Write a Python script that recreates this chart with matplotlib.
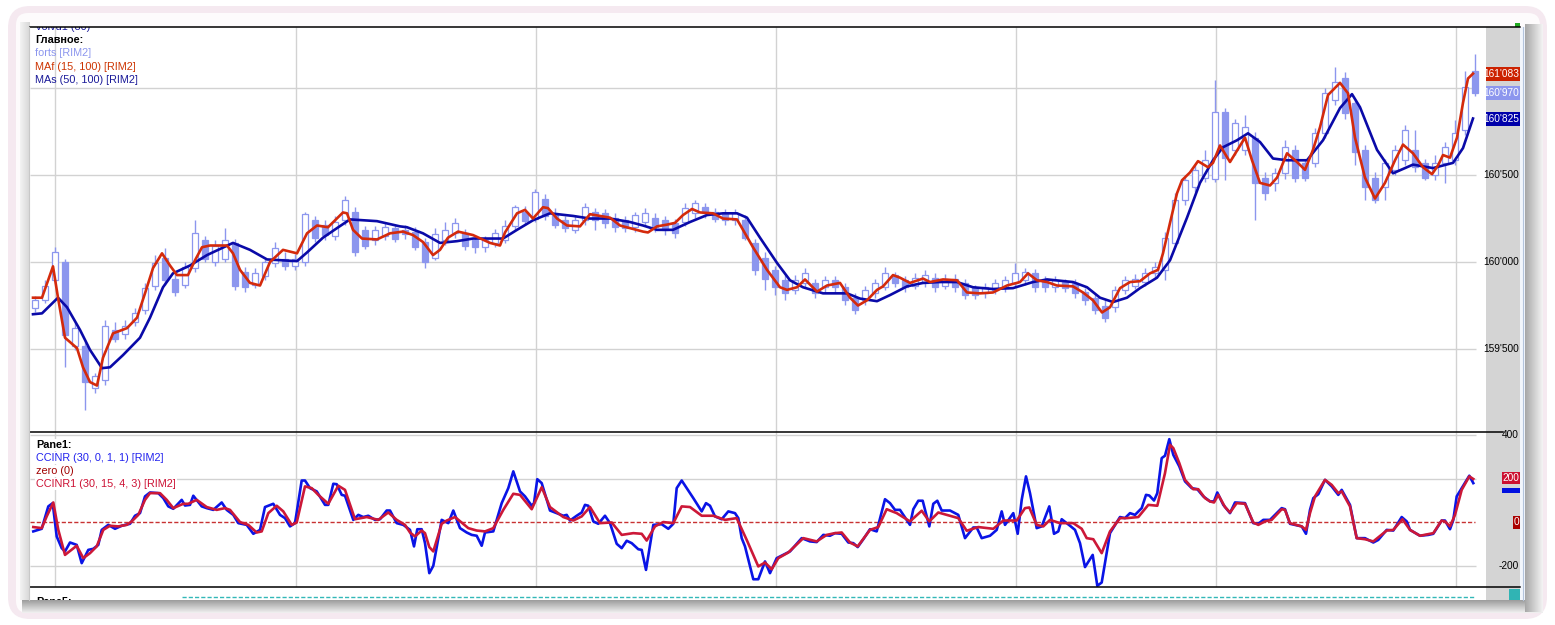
import numpy as np
import matplotlib
matplotlib.use("Agg")
import matplotlib.pyplot as plt
import matplotlib.transforms as mtransforms
from matplotlib.patches import Rectangle, FancyBboxPatch

plt.rcParams['font.family'] = ['Liberation Sans', 'DejaVu Sans']

W, H = 1555, 625

#%% candles (one slot per bar)
opens = [159735, 159780, 159895, 160000, 159515, 159520, 159275, 159320, 159610, 159585,
         159655, 159725, 159865, 160025, 159905, 159870, 159965, 160125, 160000, 160020,
         160110, 159940, 159870, 159920, 159995, 160020, 159975, 160000, 160240, 160210,
         160150, 160240, 160285, 160185, 160125, 160150, 160195, 160185, 160170, 160115,
         160025, 160125, 160165, 160165, 160125, 160085, 160110, 160125, 160205, 160285,
         160250, 160365, 160280, 160240, 160185, 160240, 160285, 160280, 160255, 160240,
         160200, 160230, 160255, 160240, 160225, 160230, 160280, 160315, 160285, 160280,
         160240, 160240, 160110, 160025, 159955, 159895, 159840, 159880, 159880, 159855,
         159895, 159855, 159795, 159780, 159820, 159855, 159925, 159895, 159865, 159880,
         159910, 159865, 159905, 159880, 159850, 159820, 159840, 159855, 159880, 159895,
         159935, 159895, 159855, 159885, 159880, 159825, 159795, 159750, 159740, 159840,
         159865, 159885, 159935, 159955, 160110, 160355, 160430, 160485, 160480, 160860,
         160645, 160645, 160715, 160485, 160455, 160510, 160645, 160570, 160570, 160740,
         160930, 161055, 160915, 160645, 160485, 160430, 160530, 160585, 160645, 160570,
         160500, 160570, 160585, 160760, 161100]
closes = [159780, 159865, 160055, 159580, 159620, 159310, 159345, 159635, 159560, 159630,
          159705, 159850, 159995, 159895, 159825, 159970, 160165, 160020, 160090, 160125,
          159865, 159855, 159935, 160000, 160080, 159975, 160020, 160275, 160140, 160155,
          160230, 160355, 160055, 160095, 160185, 160200, 160135, 160160, 160085, 160000,
          160160, 160185, 160225, 160090, 160085, 160125, 160165, 160205, 160315, 160235,
          160400, 160265, 160215, 160195, 160240, 160315, 160240, 160225, 160200, 160195,
          160270, 160280, 160200, 160185, 160165, 160310, 160340, 160280, 160250, 160240,
          160280, 160140, 159955, 159905, 159855, 159820, 159895, 159935, 159820, 159895,
          159855, 159780, 159725, 159840, 159880, 159935, 159880, 159855, 159910, 159925,
          159855, 159905, 159855, 159810, 159810, 159855, 159880, 159895, 159935, 159940,
          159855, 159855, 159895, 159850, 159820, 159780, 159725, 159680, 159840, 159895,
          159905, 159935, 159970, 160140, 160355, 160470, 160530, 160585, 160860, 160600,
          160800, 160775, 160455, 160395, 160510, 160660, 160485, 160485, 160740, 160970,
          161035, 160855, 160630, 160430, 160355, 160570, 160645, 160760, 160545, 160485,
          160570, 160660, 160740, 161005, 160970]
highs = [159805, 159895, 160085, 160020, 159655, 159550, 159365, 159665, 159655, 159665,
         159735, 159880, 160040, 160080, 159940, 160000, 160240, 160150, 160125, 160195,
         160135, 159970, 159965, 160020, 160115, 160055, 160045, 160290, 160265, 160240,
         160265, 160380, 160315, 160205, 160205, 160230, 160215, 160215, 160200, 160140,
         160195, 160230, 160255, 160190, 160150, 160150, 160190, 160240, 160330, 160320,
         160420, 160390, 160310, 160265, 160270, 160340, 160310, 160305, 160280, 160265,
         160290, 160310, 160280, 160265, 160245, 160340, 160355, 160340, 160310, 160305,
         160305, 160270, 160135, 160055, 159980, 159925, 159925, 159965, 159900, 159920,
         159920, 159880, 159820, 159865, 159905, 159970, 159945, 159920, 159935, 159955,
         159935, 159930, 159930, 159900, 159870, 159880, 159900, 159920, 159995, 159965,
         159960, 159920, 159920, 159905, 159900, 159850, 159820, 159780, 159860, 159920,
         159930, 159965, 160000, 160170, 160395, 160500, 160555, 160645, 161045, 160885,
         160825, 160845, 160745, 160515, 160540, 160700, 160670, 160595, 160770, 161000,
         161120, 161090, 160940, 160670, 160515, 160595, 160670, 160785, 160760, 160595,
         160615, 160690, 160815, 161100, 161195]
lows = [159710, 159765, 159880, 159395, 159495, 159150, 159250, 159295, 159540, 159560,
        159630, 159700, 159840, 159870, 159805, 159850, 159945, 160000, 159975, 160000,
        159840, 159830, 159850, 159895, 159970, 159955, 159955, 159980, 160115, 160125,
        160125, 160215, 160035, 160075, 160100, 160125, 160115, 160135, 160070, 159965,
        160010, 160100, 160140, 160070, 160050, 160060, 160085, 160110, 160185, 160210,
        160230, 160240, 160195, 160170, 160165, 160215, 160185, 160195, 160175, 160170,
        160175, 160205, 160175, 160155, 160140, 160205, 160255, 160255, 160230, 160215,
        160215, 160125, 159925, 159840, 159810, 159780, 159815, 159855, 159795, 159830,
        159830, 159755, 159700, 159755, 159795, 159840, 159855, 159830, 159845, 159855,
        159830, 159845, 159830, 159785, 159785, 159795, 159815, 159830, 159855, 159870,
        159830, 159830, 159830, 159825, 159795, 159755, 159700, 159655, 159715, 159815,
        159845, 159860, 159910, 159895, 160085, 160325, 160400, 160460, 160460, 160470,
        160615, 160615, 160240, 160355, 160410, 160480, 160460, 160465, 160545, 160715,
        160905, 160825, 160555, 160355, 160340, 160355, 160500, 160555, 160515, 160470,
        160470, 160455, 160555, 160730, 160955]

#%% moving averages (bar position, price)
maf_x = [-0.2, 0.7, 1.8, 2.3, 3.0, 4.2, 4.8, 5.5, 6.2, 6.8,
         7.8, 9.2, 10.2, 11.0, 11.8, 12.7, 13.5, 14.2, 15.3, 16.0,
         16.7, 17.5, 19.2, 19.8, 20.5, 21.5, 22.5, 23.5, 24.8, 26.2,
         27.2, 28.2, 29.3, 30.8, 31.2, 31.8, 32.7, 34.2, 35.5, 36.8,
         37.8, 38.8, 39.8, 40.5, 41.3, 42.3, 43.8, 45.5, 46.5, 47.0,
         48.2, 49.0, 49.8, 50.8, 51.3, 52.2, 53.2, 54.5, 55.5, 56.5,
         57.5, 58.5, 59.5, 60.8, 61.3, 62.2, 63.2, 64.0, 64.8, 65.7,
         66.5, 67.8, 68.8, 70.2, 70.8, 71.8, 73.2, 74.5, 75.2, 76.2,
         77.0, 78.2, 79.2, 80.5, 81.5, 82.3, 83.2, 84.2, 84.8, 85.8,
         86.5, 87.5, 88.8, 89.5, 90.8, 92.2, 93.2, 94.5, 95.8, 97.2,
         98.5, 99.3, 100.2, 101.2, 102.2, 103.8, 104.8, 105.8, 106.7, 107.5,
         108.5, 109.5, 110.5, 111.5, 112.3, 112.8, 113.5, 114.2, 114.7, 115.5,
         116.3, 117.3, 117.8, 118.5, 119.5, 121.0, 121.7, 122.5, 123.5, 124.2,
         125.2, 126.2, 127.0, 127.8, 128.5, 129.3, 130.5, 131.3, 132.0, 133.0,
         134.0, 135.0, 136.0, 136.8, 137.8, 138.8, 139.7, 140.3, 140.8, 141.5,
         142.2, 142.8, 143.3, 143.8]
maf_y = [159795, 159795, 159975, 159795, 159565, 159505, 159395, 159310, 159290, 159450,
         159590, 159620, 159680, 159820, 159965, 160050, 159980, 159925, 159925, 160010,
         160085, 160095, 160095, 160050, 159955, 159880, 159865, 160000, 160070, 160050,
         160165, 160210, 160200, 160285, 160280, 160185, 160135, 160130, 160165, 160175,
         160155, 160115, 160040, 160070, 160140, 160175, 160155, 160110, 160095, 160170,
         160280, 160300, 160250, 160315, 160310, 160250, 160210, 160205, 160275, 160265,
         160255, 160210, 160195, 160175, 160170, 160205, 160215, 160225, 160270, 160305,
         160285, 160280, 160250, 160245, 160185, 160085, 159955, 159855, 159840, 159855,
         159900, 159830, 159865, 159880, 159795, 159750, 159780, 159840, 159860, 159925,
         159910, 159880, 159905, 159885, 159900, 159895, 159825, 159820, 159825, 159865,
         159885, 159935, 159895, 159885, 159865, 159860, 159825, 159780, 159710, 159740,
         159850, 159885, 159890, 159935, 159955, 160050, 160225, 160395, 160470, 160515,
         160580, 160545, 160570, 160670, 160575, 160715, 160585, 160455, 160440, 160485,
         160625, 160575, 160530, 160645, 160775, 160960, 161030, 160970, 160715, 160485,
         160365, 160455, 160585, 160675, 160625, 160545, 160505, 160555, 160615, 160600,
         160715, 160915, 161055, 161083]
mas_x = [-0.2, 0.7, 2.3, 3.2, 4.5, 5.5, 6.7, 7.5, 8.8, 10.5,
         11.5, 12.8, 13.8, 15.5, 17.2, 19.8, 21.5, 23.2, 26.2, 27.2,
         28.8, 30.2, 31.5, 34.2, 36.5, 37.2, 38.8, 40.5, 42.2, 43.8,
         46.8, 48.2, 49.8, 51.5, 53.8, 55.5, 57.5, 59.5, 60.8, 62.2,
         63.8, 65.5, 67.2, 68.8, 70.2, 71.2, 72.5, 74.2, 75.5, 76.8,
         78.8, 81.2, 82.5, 84.2, 85.5, 87.2, 88.8, 90.5, 92.2, 93.8,
         95.8, 97.8, 99.8, 101.2, 103.8, 105.2, 106.5, 107.8, 109.2, 110.5,
         112.2, 113.5, 115.2, 116.5, 117.8, 118.8, 120.2, 121.3, 122.5, 123.8,
         125.2, 127.2, 128.8, 130.5, 131.7, 132.5, 134.2, 135.8, 137.8, 139.8,
         141.8, 142.8, 143.8]
mas_y = [159700, 159705, 159795, 159740, 159610, 159495, 159390, 159395, 159465, 159565,
         159680, 159855, 159935, 159980, 160040, 160110, 160070, 160015, 160005, 160055,
         160140, 160195, 160245, 160235, 160205, 160200, 160165, 160110, 160120, 160135,
         160135, 160185, 160240, 160280, 160265, 160250, 160250, 160230, 160210, 160185,
         160185, 160230, 160270, 160280, 160280, 160255, 160140, 159995, 159895, 159855,
         159820, 159820, 159790, 159775, 159810, 159860, 159880, 159885, 159885, 159855,
         159845, 159850, 159885, 159900, 159885, 159855, 159795, 159770, 159795, 159850,
         159910, 160010, 160255, 160455, 160585, 160660, 160700, 160740, 160690, 160595,
         160585, 160585, 160700, 160885, 160965, 160890, 160645, 160510, 160560, 160540,
         160570, 160655, 160825]

#%% CCI pane (bar position, value)
ccinr = [(-0.17, -41), (0.67, -29), (1.33, 74), (1.77, 89), (2.17, -64), (2.67, -118), (3.0, -133),
         (3.5, -92), (4.17, -103), (4.67, -187), (5.33, -126), (5.83, -121), (6.33, -103), (6.67, -34),
         (7.33, -11), (8.0, -29), (8.67, -15), (9.5, -6), (10.0, 31), (10.5, 43), (11.0, 120),
         (11.5, 138), (12.33, 135), (12.83, 112), (13.33, 74), (13.83, 63), (14.67, 104), (15.0, 78),
         (15.5, 81), (15.83, 123), (16.67, 74), (17.17, 66), (17.83, 58), (18.67, 92), (19.17, 58),
         (19.83, 35), (20.33, -3), (21.17, -11), (21.83, -52), (22.5, -34), (23.0, 71), (23.83, 86),
         (24.5, 35), (25.0, 20), (25.5, -18), (26.0, -3), (26.67, 193), (27.0, 193), (27.5, 158),
         (28.17, 143), (29.0, 81), (29.33, 81), (29.83, 178), (30.17, 176), (30.67, 127), (31.0, 123),
         (31.83, 12), (32.33, 35), (32.83, 25), (33.33, 31), (34.0, 12), (34.5, 15), (35.17, 55),
         (35.5, 55), (36.17, -3), (36.83, -11), (37.5, -34), (37.9, -110), (38.23, -31), (38.67, -31),
         (39.0, -95), (39.43, -233), (39.83, -199), (40.67, 12), (41.33, -3), (41.83, 55), (42.5, -26),
         (43.17, -46), (43.67, -57), (44.17, -61), (44.67, -107), (45.0, -46), (45.83, -41), (46.67, 89),
         (47.33, 158), (47.83, 235), (48.5, 143), (49.0, 120), (49.67, 77), (49.9, 89), (50.23, 199),
         (50.67, 181), (51.5, 55), (52.83, 31), (53.17, 35), (53.5, 9), (54.17, 31), (54.67, 46),
         (55.0, 81), (55.33, 77), (55.83, 5), (56.33, -6), (57.0, 31), (57.5, -3), (58.17, -98),
         (58.67, -118), (59.17, -84), (59.67, -95), (60.33, -123), (60.67, -126), (61.1, -218),
         (61.83, -11), (62.67, -8), (63.33, -29), (63.83, -6), (64.17, 158), (64.67, 193), (65.83, 112),
         (66.67, 51), (67.1, 89), (67.5, 77), (68.0, 28), (68.67, 15), (69.33, 51), (70.0, 43),
         (70.33, 20), (70.67, -72), (71.0, -110), (71.83, -261), (72.33, -261), (73.0, -179),
         (73.5, -233), (74.17, -164), (75.17, -141), (75.5, -133), (76.67, -72), (77.5, -87),
         (78.17, -90), (78.83, -57), (79.5, -61), (80.0, -49), (80.67, -52), (81.33, -92), (81.83, -95),
         (82.27, -113), (82.83, -77), (83.5, -31), (84.17, -41), (85.0, 107), (85.5, 89), (86.0, 58),
         (86.5, 58), (87.5, -11), (87.83, 61), (88.33, 100), (88.77, 100), (89.43, -18), (89.83, 86),
         (90.23, 100), (90.67, 55), (91.5, 55), (92.33, 35), (93.0, -72), (93.83, -23), (94.17, -23),
         (94.67, -72), (95.5, -61), (96.17, -34), (96.67, 51), (97.0, -11), (97.83, 43), (98.27, -52),
         (98.67, 104), (99.1, 212), (99.5, 135), (100.17, -26), (100.67, -18), (101.43, 74),
         (101.9, -52), (102.33, -41), (102.67, 15), (103.5, -15), (104.0, -34), (104.5, -95),
         (105.0, -205), (105.77, -149), (106.23, -291), (106.67, -276), (107.5, -49), (108.5, 25),
         (109.0, 20), (109.5, 43), (110.0, 35), (110.67, 66), (111.1, 127), (111.43, 124), (111.9, 101),
         (112.23, 135), (112.67, 296), (113.0, 307), (113.43, 383), (113.83, 311), (114.43, 258),
         (115.0, 189), (115.67, 158), (116.23, 153), (116.83, 120), (117.5, 97), (117.9, 97),
         (118.23, 138), (118.83, 81), (119.5, 43), (120.0, 92), (121.0, 89), (121.83, -3), (122.33, -6),
         (122.83, 12), (123.5, 12), (124.67, 66), (125.0, 61), (125.5, -6), (126.67, -18), (127.1, -52),
         (127.5, 58), (127.83, 112), (128.33, 130), (129.0, 196), (129.67, 166), (130.33, 127),
         (130.67, 150), (131.5, 81), (132.17, -72), (133.0, -72), (133.83, -92), (134.33, -80),
         (135.17, -34), (135.83, -37), (136.67, 25), (137.17, 5), (137.5, -34), (138.5, -61),
         (139.33, -57), (139.83, -52), (140.67, 9), (141.0, 9), (141.5, -31), (141.83, 12), (142.17, 120),
         (142.67, 158), (143.43, 215), (143.83, 181)]
ccinr1 = [(-0.17, -21), (0.67, -26), (1.17, 28), (1.83, 92), (2.33, -34), (3.0, -149), (4.17, -107),
          (4.83, -164), (5.5, -141), (6.17, -110), (6.83, -34), (7.5, -15), (8.33, -18), (9.17, -11),
          (9.67, 5), (10.33, 35), (11.0, 104), (11.5, 135), (12.5, 135), (13.17, 104), (13.83, 66),
          (14.83, 86), (15.33, 86), (16.17, 104), (17.17, 71), (18.17, 58), (19.0, 66), (19.5, 58),
          (20.5, 2), (21.33, -11), (22.17, -46), (22.67, -41), (23.33, 43), (24.17, 77), (24.83, 51),
          (25.67, -11), (26.17, 0), (27.0, 166), (27.67, 158), (28.33, 127), (29.33, 86), (30.33, 169),
          (31.0, 150), (32.0, 15), (33.17, 25), (34.33, 12), (35.33, 46), (36.17, 12), (37.0, -11),
          (37.5, -46), (38.0, -64), (38.67, -37), (39.0, -49), (39.43, -113), (39.83, -133), (40.67, -6),
          (41.17, 9), (42.0, 25), (43.33, -26), (44.17, -37), (45.0, -41), (45.83, -26), (46.83, 58),
          (47.83, 132), (48.5, 127), (49.67, 61), (50.67, 162), (51.5, 71), (52.83, 25), (53.83, 9),
          (54.67, 28), (55.5, 71), (56.5, -3), (57.67, 0), (58.67, -57), (59.83, -49), (60.67, -52),
          (61.17, -83), (62.0, -18), (62.83, 2), (63.83, -3), (64.67, 74), (65.5, 71), (66.67, 31),
          (67.83, 31), (69.0, 12), (70.17, 20), (71.17, -80), (72.33, -202), (73.0, -184), (73.67, -215),
          (74.33, -164), (75.33, -138), (76.83, -72), (78.17, -87), (79.17, -57), (80.0, -49),
          (80.67, -46), (81.5, -92), (82.27, -110), (83.5, -34), (84.33, -21), (85.17, 61), (86.17, 43),
          (87.5, 5), (88.67, 54), (89.43, 5), (90.33, 46), (92.33, 20), (93.17, -38), (94.33, -21),
          (95.83, -29), (96.83, 9), (98.17, 9), (99.0, 66), (99.43, 69), (100.17, -11), (100.83, -18),
          (101.5, 12), (102.5, -3), (103.83, -3), (104.67, -29), (105.17, -72), (105.83, -77),
          (106.67, -141), (107.5, -41), (108.5, 20), (109.17, 20), (110.33, 25), (111.33, 81),
          (112.23, 77), (113.0, 227), (113.5, 357), (113.83, 342), (114.43, 273), (115.0, 196),
          (115.83, 153), (116.33, 153), (117.0, 112), (117.5, 97), (117.9, 92), (118.33, 127), (119.0, 71),
          (119.5, 46), (120.17, 89), (121.0, 86), (121.83, 0), (122.33, -11), (123.0, 5), (123.67, 12),
          (124.67, 61), (125.0, 58), (125.5, -3), (126.67, -18), (127.1, -34), (127.5, 43), (128.0, 120),
          (129.0, 196), (129.67, 173), (130.33, 135), (130.67, 143), (131.5, 74), (132.17, -72),
          (133.0, -77), (133.83, -87), (135.17, -37), (135.83, -34), (136.75, 15), (137.5, -34),
          (138.5, -61), (139.83, -49), (140.67, 9), (141.0, 5), (141.5, -18), (142.0, 35), (142.67, 150),
          (143.43, 212), (143.83, 200)]

price_ticks = [159500, 160000, 160500, 161000]
price_labels = [159500, 160000, 160500]   # 161'000 sits under the last-value boxes
cci_ticks = [400, 200, 0, -200]
time_grid = [2.0, 26.1, 50.1, 74.1, 98.1, 118.1, 142.1]
last_maf, last_close, last_mas = 161083, 160970, 160825
last_cci = 200
pane5_level = 80

C_CANDLE = '#8c96ee'
C_MAF = '#d42a0c'
C_MAS = '#0a0aa8'
C_CCI = '#0a14e6'
C_CCI1 = '#cc1838'
C_GRID = '#d2d2d2'
FS_AX = 7.3


def fmt(v):
    return f"{int(v):,}".replace(",", "'")


def rect(px, py, pw, ph):
    return [px / W, 1 - (py + ph) / H, pw / W, ph / H]


def fpos(px, py):
    return px / W, 1 - py / H


fig = plt.figure(figsize=(W / 100, H / 100), dpi=100)
fig.patch.set_facecolor('white')

#%% window frame (pixel space)
bg = fig.add_axes([0, 0, 1, 1])
bg.set_zorder(-1)
bg.set_xlim(0, W)
bg.set_ylim(H, 0)
bg.axis('off')
bg.add_patch(FancyBboxPatch((8, 6), 1539, 613, boxstyle='round,pad=0,rounding_size=22',
                            fc='#f5e9f0', ec='none'))
bg.add_patch(FancyBboxPatch((16, 13), 1524, 600, boxstyle='round,pad=0,rounding_size=12',
                            fc='#fdfbfc', ec='none'))
for i in range(10):
    bg.add_patch(Rectangle((20 + i, 22), 1, 578, fc=str(0.95 - 0.012 * i), ec='none'))
for i in range(13):
    bg.add_patch(Rectangle((22, 600 + i), 1521, 1, fc=str(0.62 + 0.026 * i), ec='none'))
for i in range(18):
    bg.add_patch(Rectangle((1525 + i, 24), 1, 588, fc=str(0.66 + 0.017 * i), ec='none'))
bg.add_patch(Rectangle((1520, 27), 5, 573, fc='#f2f6fc', ec='none'))
bg.plot([1523, 1523], [27, 600], color='#b4c4dc', lw=0.8)
bg.add_patch(Rectangle((1486, 27), 34, 573, fc='#d4d4d4', ec='none'))

#%% main price pane
ax = fig.add_axes(rect(30, 27, 1456, 405))
ax.set_xlim(-0.5, 145.1)
ax.set_ylim(159023, 161351)
ax.axis('off')
ax.add_patch(Rectangle((0, 0), 1, 1, transform=ax.transAxes, fc='white', ec='none', zorder=0))
ax.hlines(price_ticks, -0.5, 144.1, color=C_GRID, lw=1, zorder=1)
ax.vlines(time_grid, 159023, 161351, color=C_GRID, lw=1, zorder=1)

bars = np.arange(len(opens))
o = np.array(opens)
c = np.array(closes)
up = c >= o
ax.vlines(bars, lows, highs, color=C_CANDLE, lw=1, zorder=2)
ax.bar(bars[up], (c - o)[up], bottom=o[up], width=0.6, color='white',
       edgecolor=C_CANDLE, lw=0.9, zorder=3)
ax.bar(bars[~up], (o - c)[~up], bottom=c[~up], width=0.6, color=C_CANDLE,
       edgecolor=C_CANDLE, lw=0.9, zorder=3)
ax.plot(mas_x, mas_y, color=C_MAS, lw=1.9, zorder=4, solid_joinstyle='round')
ax.plot(maf_x, maf_y, color=C_MAF, lw=1.9, zorder=5, solid_joinstyle='round')

# legend line scrolled up, only its lower half shows
ax.text(0.004, 0.999, 'volvd1 (80)', transform=ax.transAxes, fontsize=7.8, color='#1a1a99',
        va='center', ha='left', clip_on=True, zorder=6)

blend = mtransforms.blended_transform_factory(ax.transAxes, ax.transData)
for v in price_labels:
    ax.text(1.0227, v, fmt(v), transform=blend, ha='right', va='center', fontsize=FS_AX,
            clip_on=False, zorder=6)
hh = 7 * 5.747
for v, col in [(last_maf, '#cc2200'), (last_close, C_CANDLE), (last_mas, '#0000aa')]:
    ax.add_patch(Rectangle((1.0, v - hh), 0.0234, 2 * hh, transform=blend, fc=col, ec='none',
                           clip_on=False, zorder=7))
    ax.text(1.0227, v, fmt(v), transform=blend, ha='right', va='center', fontsize=FS_AX,
            color='white', clip_on=False, zorder=8)

#%% CCI pane
ax2 = fig.add_axes(rect(30, 432, 1456, 155))
ax2.set_xlim(-0.5, 145.1)
ax2.set_ylim(-296.6, 416)
ax2.axis('off')
ax2.add_patch(Rectangle((0, 0), 1, 1, transform=ax2.transAxes, fc='white', ec='none', zorder=0))
ax2.hlines([400, 200, -200], -0.5, 144.1, color=C_GRID, lw=1, zorder=1)
ax2.vlines(time_grid, -296.6, 416, color=C_GRID, lw=1, zorder=1)
ax2.hlines(0, -0.5, 144.0, color='#c83232', lw=1, linestyles=(0, (3, 1.5)), zorder=2)
cx, cv = np.array(ccinr).T
ax2.plot(cx, cv, color=C_CCI, lw=1.9, zorder=3, solid_joinstyle='round')
cx1, cv1 = np.array(ccinr1).T
ax2.plot(cx1, cv1, color=C_CCI1, lw=1.9, zorder=4, solid_joinstyle='round')

blend2 = mtransforms.blended_transform_factory(ax2.transAxes, ax2.transData)
for v in [400, -200]:
    ax2.text(1.0227, v, str(v), transform=blend2, ha='right', va='center', fontsize=FS_AX,
             clip_on=False, zorder=6)
ax2.add_patch(Rectangle((1.0110, last_cci - 63), 0.0124, 20, transform=blend2, fc='#0010e0',
                        ec='none', clip_on=False, zorder=6))
ax2.add_patch(Rectangle((1.0110, last_cci - 23), 0.0124, 54, transform=blend2, fc='#cc1030',
                        ec='none', clip_on=False, zorder=7))
ax2.text(1.0229, last_cci + 3, str(last_cci), transform=blend2, ha='right', va='center',
         fontsize=FS_AX, color='white', clip_on=False, zorder=8)
ax2.add_patch(Rectangle((1.0185, -28), 0.0049, 56, transform=blend2, fc='#aa0000',
                        ec='none', clip_on=False, zorder=7))
ax2.text(1.0229, 0, '0', transform=blend2, ha='right', va='center', fontsize=FS_AX,
         color='white', clip_on=False, zorder=8)

#%% partly visible pane below
ax3 = fig.add_axes(rect(30, 587, 1456, 13))
ax3.set_xlim(-0.5, 145.1)
ax3.set_ylim(74, 100)
ax3.axis('off')
ax3.add_patch(Rectangle((0, 0), 1, 1, transform=ax3.transAxes, fc='white', ec='none', zorder=0))
ax3.hlines(pane5_level, 14.7, 144.0, color='#33b8b8', lw=1, linestyles=(0, (3, 1.5)), zorder=2)
ax3.text(0.004, 0.25, 'Pane5:', transform=ax3.transAxes, fontsize=7.8, fontweight='bold',
         va='top', ha='left', clip_on=True)
ax3.add_patch(Rectangle((1.0158, 0.0), 0.0076, 0.85, transform=ax3.transAxes, fc='#30b4b4',
                        ec='none', clip_on=False, zorder=7))
ax3.text(1.0231, 0.4, str(pane5_level), transform=ax3.transAxes, ha='right', va='center',
         fontsize=FS_AX, color='white', clip_on=True, zorder=8)

#%% legends
fs = 7.8
fig.text(*fpos(35, 40), 'Главное:', fontsize=fs, fontweight='bold', va='center')
fig.text(*fpos(35, 53), 'forts [RIM2]', fontsize=fs, color=C_CANDLE, va='center')
fig.text(*fpos(35, 67), 'MAf (15, 100) [RIM2]', fontsize=fs, color='#cc3300', va='center')
fig.text(*fpos(35, 80), 'MAs (50, 100) [RIM2]', fontsize=fs, color='#1a1a99', va='center')

wb = dict(facecolor='white', edgecolor='none', pad=0.6)
fig.text(*fpos(36, 445), 'Pane1:', fontsize=fs, fontweight='bold', va='center', bbox=wb)
fig.text(*fpos(36, 458), 'CCINR (30, 0, 1, 1) [RIM2]', fontsize=fs, color='#2020ee',
         va='center', bbox=wb)
fig.text(*fpos(36, 471), 'zero (0)', fontsize=fs, color='#a00000', va='center', bbox=wb)
fig.text(*fpos(36, 484), 'CCINR1 (30, 15, 4, 3) [RIM2]', fontsize=fs, color='#cc1033',
         va='center', bbox=wb)

#%% pane separators
top = fig.add_axes([0, 0, 1, 1])
top.set_zorder(10)
top.patch.set_visible(False)
top.set_xlim(0, W)
top.set_ylim(H, 0)
top.axis('off')
top.plot([30, 1520], [27, 27], color='black', lw=1.1)
top.plot([30, 1503], [432, 432], color='black', lw=1.1)
top.plot([30, 1520], [587, 587], color='black', lw=1.1)
top.plot([29, 29], [27, 600], color='#c8c8c8', lw=0.8)
top.add_patch(Rectangle((1515, 23), 5, 4, fc='#22aa22', ec='none'))

fig.savefig('out.png', dpi=100)
